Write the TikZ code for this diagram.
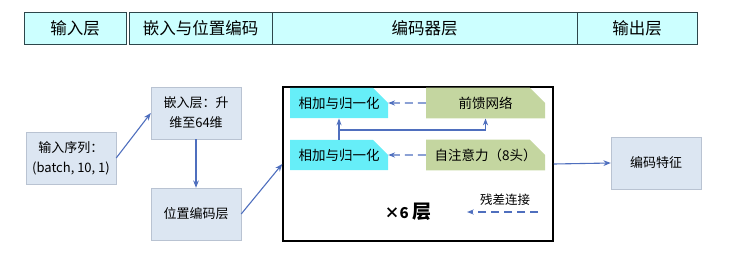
\documentclass[tikz,border=0pt]{standalone}
\usepackage{fontspec}
\newfontfamily\cjk{Noto Sans CJK SC}
\usepackage{tikz}
\usetikzlibrary{positioning,shapes.misc,arrows.meta}
\definecolor{hdrcyan}{RGB}{204,255,255}
\definecolor{hdrline}{RGB}{45,70,75}
\definecolor{boxblue}{RGB}{220,230,242}
\definecolor{boxline}{RGB}{185,195,210}
\definecolor{arrblue}{RGB}{79,111,190}
\definecolor{normcyan}{RGB}{102,238,248}
\definecolor{ffgreen}{RGB}{196,214,160}
\tikzset{
  % --- header row ------------------------------------------------------------
  hcell/.style={draw=hdrline,fill=hdrcyan,minimum height=32pt,inner sep=0pt,
                anchor=west,font=\cjk\fontsize{16.5}{18}\selectfont},
  % --- outer blocks ----------------------------------------------------------
  blk/.style={draw=boxline,fill=boxblue,minimum width=90pt,minimum height=52pt,
              inner sep=1pt,align=center,font=\cjk\fontsize{13}{20}\selectfont},
  encbox/.style={draw=black,line width=1.5pt,minimum width=270pt,
                 minimum height=154pt,inner sep=0pt},
  % --- encoder sub-layers ----------------------------------------------------
  sub/.style={chamfered rectangle,chamfered rectangle corners=north east,
              chamfered rectangle xsep=9pt,chamfered rectangle ysep=9pt,
              minimum height=18pt,inner sep=0pt,
              font=\cjk\fontsize{13.5}{15}\selectfont},
  norm/.style={sub,fill=normcyan,minimum width=98pt},
  ffn/.style={sub,fill=ffgreen,minimum width=119pt},
  % --- connectors ------------------------------------------------------------
  flow/.style={-{Stealth[length=2.6mm,width=2mm]},arrblue,line width=1.1pt},
  res/.style={-{Stealth[length=2.4mm,width=1.8mm]},arrblue,line width=1.1pt,
              dash pattern=on 8pt off 5pt},
  skip/.style={-{Stealth[length=2.4mm,width=1.8mm]},arrblue,line width=1.1pt},
  lab/.style={inner sep=1pt,font=\cjk\fontsize{12.5}{14}\selectfont},
}

\begin{document}
\begin{tikzpicture}[x=1pt, y=-1pt]
  \useasboundingbox (0,0) rectangle (742,252);

  % header
  \node[hcell,minimum width=102pt] (hin)  at (24,28)  {输入层};
  \node[hcell,minimum width=143pt] (hemb) at (129,28) {嵌入与位置编码};
  \node[hcell,minimum width=305pt] (henc) at (272,28) {编码器层};
  \node[hcell,minimum width=120pt] (hout) at (577,28) {输出层};

  % blocks
  \node[blk] (inp) at (71,158)  {输入序列：\\(batch, 10, 1)};
  \node[blk] (emb) at (196,113) {嵌入层：升\\维至64维};
  \node[blk] (pos) at (196,214) {位置编码层};
  \node[encbox] (enc) at (418,164) {};
  \node[blk] (out) at (656,163) {编码特征};

  % encoder layer
  \node[norm] (norm2) at (339,103) {相加与归一化};
  \node[ffn]  (ffw)   at (485.5,103) {前馈网络};
  \node[norm] (norm1) at (339,155) {相加与归一化};
  \node[ffn]  (att)   at (485.5,155) {自注意力（8头）};
  \coordinate (split) at (340,130);

  \draw[res] (ffw) -- (norm2);
  \draw[res] (att) -- (norm1);
  \draw[skip] (norm1.north) -- (norm2.south);
  \draw[skip] (split) -| (ffw.south);

  \node[font=\cjk\bfseries\fontsize{15}{18}\selectfont] (rep) at (408,212)
       {×6 {\fontsize{19}{20}\selectfont 层}};
  \node[lab] (leg) at (505,200) {残差连接};
  \coordinate (legA) at (538,212);
  \coordinate (legB) at (467,212);
  \draw[res] (legA) -- (legB);

  % data flow
  \draw[flow] (inp.east) -- (emb.west);
  \draw[flow] (emb) -- (pos);
  \draw[flow] (pos.east) -- (enc.west);
  \draw[flow] (enc.east) -- (out.west);
\end{tikzpicture}
\end{document}
